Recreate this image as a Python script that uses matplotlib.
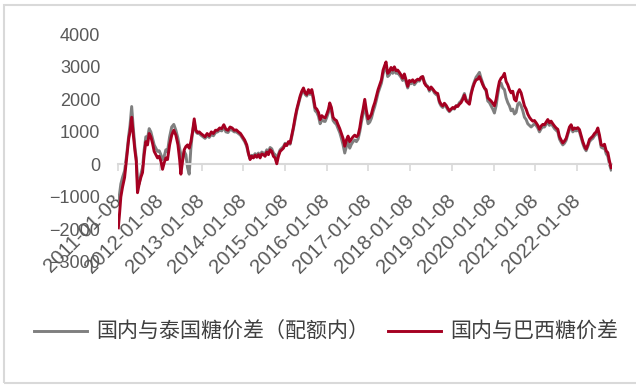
import matplotlib
matplotlib.use("Agg")
import matplotlib.pyplot as plt
from matplotlib.patches import Rectangle
from matplotlib.transforms import ScaledTranslation
import pandas as pd

# Weekly-ish sampling, decimal years
years = [
    2011.02, 2011.05, 2011.08, 2011.12, 2011.17, 2011.22, 2011.27, 2011.30, 2011.34, 2011.38,
    2011.42, 2011.45, 2011.48, 2011.52, 2011.56, 2011.60, 2011.64, 2011.68, 2011.72, 2011.76,
    2011.80, 2011.84, 2011.88, 2011.92, 2011.96, 2012.00, 2012.04, 2012.08, 2012.12, 2012.16,
    2012.20, 2012.25, 2012.30, 2012.35, 2012.40, 2012.45, 2012.49, 2012.52, 2012.56, 2012.60,
    2012.64, 2012.68, 2012.72, 2012.76, 2012.80, 2012.84, 2012.88, 2012.92, 2012.96, 2013.00,
    2013.05, 2013.10, 2013.15, 2013.20, 2013.25, 2013.30, 2013.35, 2013.40, 2013.45, 2013.50,
    2013.55, 2013.60, 2013.65, 2013.70, 2013.75, 2013.80, 2013.85, 2013.90, 2013.95, 2014.00,
    2014.05, 2014.10, 2014.14, 2014.18, 2014.22, 2014.26, 2014.30, 2014.34, 2014.38, 2014.42,
    2014.46, 2014.50, 2014.54, 2014.58, 2014.62, 2014.66, 2014.70, 2014.74, 2014.78, 2014.82,
    2014.86, 2014.90, 2014.94, 2014.98, 2015.02, 2015.06, 2015.10, 2015.14, 2015.18, 2015.22,
    2015.26, 2015.30, 2015.34, 2015.38, 2015.42, 2015.46, 2015.50, 2015.54, 2015.58, 2015.62,
    2015.66, 2015.70, 2015.74, 2015.78, 2015.82, 2015.86, 2015.90, 2015.94, 2015.98, 2016.02,
    2016.06, 2016.09, 2016.13, 2016.17, 2016.21, 2016.25, 2016.29, 2016.33, 2016.37, 2016.41,
    2016.45, 2016.49, 2016.53, 2016.57, 2016.61, 2016.65, 2016.69, 2016.73, 2016.77, 2016.81,
    2016.85, 2016.89, 2016.93, 2016.97, 2017.01, 2017.05, 2017.09, 2017.13, 2017.17, 2017.21,
    2017.25, 2017.29, 2017.33, 2017.37, 2017.41, 2017.44, 2017.48, 2017.52, 2017.56, 2017.60,
    2017.64, 2017.68, 2017.72, 2017.76, 2017.80, 2017.84, 2017.88, 2017.92, 2017.96, 2018.00,
    2018.04, 2018.08, 2018.12, 2018.16, 2018.20, 2018.24, 2018.28, 2018.32, 2018.36, 2018.40,
    2018.44, 2018.48, 2018.52, 2018.56, 2018.60, 2018.64, 2018.68, 2018.72, 2018.76, 2018.80,
    2018.84, 2018.88, 2018.92, 2018.96, 2019.00, 2019.04, 2019.08, 2019.12, 2019.16, 2019.20,
    2019.24, 2019.28, 2019.32, 2019.36, 2019.40, 2019.44, 2019.48, 2019.52, 2019.56, 2019.60,
    2019.64, 2019.68, 2019.72, 2019.76, 2019.80, 2019.84, 2019.88, 2019.92, 2019.96, 2020.00,
    2020.04, 2020.08, 2020.12, 2020.16, 2020.20, 2020.24, 2020.28, 2020.32, 2020.36, 2020.40,
    2020.44, 2020.48, 2020.52, 2020.56, 2020.60, 2020.64, 2020.68, 2020.72, 2020.76, 2020.80,
    2020.84, 2020.88, 2020.92, 2020.96, 2021.00, 2021.04, 2021.08, 2021.12, 2021.16, 2021.20,
    2021.24, 2021.28, 2021.32, 2021.36, 2021.40, 2021.44, 2021.48, 2021.52, 2021.56, 2021.60,
    2021.64, 2021.68, 2021.72, 2021.76, 2021.80, 2021.84, 2021.88, 2021.92, 2021.96, 2022.00,
    2022.04, 2022.08, 2022.12, 2022.16, 2022.20, 2022.24, 2022.28, 2022.32, 2022.36, 2022.40,
    2022.44, 2022.48, 2022.52, 2022.56, 2022.60, 2022.64, 2022.68, 2022.72, 2022.76, 2022.80,
    2022.84,
]

# Domestic vs Thai sugar price spread (within quota), yuan/t
thai_spread = [
    -1100, -900, -600, -400, -200, 300, 900, 1200, 1780, 1100,
    500, 200, -500, -600, -300, -100, 450, 850, 800, 1100,
    1000, 800, 600, 500, 400, 420, 300, 150, 250, 450,
    400, 850, 1150, 1230, 1050, 800, 500, 300, 150, 400,
    300, -100, -300, 500, 1000, 1300, 1000, 950, 950, 900,
    850, 800, 880, 830, 920, 880, 980, 1000, 1050, 1030,
    1150, 1000, 980, 1080, 1050, 1000, 1000, 950, 900, 800,
    700, 550, 320, 180, 280, 250, 330, 280, 350, 260,
    380, 350, 320, 450, 380, 520, 480, 350, 300, 150,
    320, 450, 500, 550, 650, 600, 680, 620, 850, 1100,
    1380, 1650, 1850, 2050, 2200, 2300, 2150, 2100, 2250, 2150,
    2250, 1950, 1650, 1600, 1480, 1250, 1380, 1330, 1320, 1450,
    1600, 1800, 1650, 1350, 1280, 1230, 1100, 980, 800, 600,
    350, 550, 700, 500, 620, 700, 750, 700, 780, 1000,
    1300, 1550, 1850, 1500, 1250, 1300, 1420, 1620, 1780, 1980,
    2200, 2350, 2500, 2780, 2950, 3050, 2700, 2750, 2880, 2800,
    2900, 2800, 2820, 2750, 2680, 2580, 2700, 2520, 2350, 2500,
    2480, 2530, 2450, 2520, 2580, 2560, 2650, 2700, 2550, 2450,
    2400, 2250, 2350, 2300, 2200, 2150, 2120, 1900, 1800, 1750,
    1830, 1780, 1680, 1620, 1680, 1730, 1700, 1800, 1800, 1900,
    1950, 2050, 2180, 2000, 1950, 1900, 2200, 2400, 2550, 2680,
    2750, 2830, 2650, 2500, 2350, 2250, 1950, 1900, 1800, 1700,
    1580, 1800, 2150, 2450, 2500, 2350, 2300, 2050, 1900, 1800,
    1650, 1700, 1550, 1600, 1850, 1900, 1800, 1650, 1450, 1380,
    1250, 1200, 1150, 1200, 1250, 1200, 1120, 1000, 1100, 1150,
    1150, 1230, 1300, 1200, 1250, 1180, 1100, 1050, 1000, 780,
    680, 600, 650, 740, 920, 1080, 1150, 1000, 1050, 1030,
    1060, 1000, 820, 640, 500, 420, 550, 700, 760, 800,
    880, 930, 1020, 820, 530, 500, 520, 330, 250, 0,
    -170,
]

# Domestic vs Brazilian sugar price spread, yuan/t
brazil_spread = [
    -1950, -1500, -1000, -700, -400, 200, 800, 1000, 1450, 900,
    400, 100, -870, -600, -400, -250, 300, 700, 600, 950,
    850, 650, 400, 300, 200, 250, 100, -150, 50, 200,
    150, 600, 900, 1050, 900, 600, 150, -300, 100, 450,
    550, 600, 500, 700, 1000, 1400, 1050, 980, 1000, 950,
    900, 850, 950, 880, 1000, 950, 1050, 1050, 1120, 1100,
    1220, 1080, 1050, 1150, 1120, 1050, 1060, 1000, 950, 850,
    750, 600, 350, 150, 250, 200, 280, 220, 300, 200,
    320, 300, 250, 380, 300, 450, 400, 250, 200, 20,
    250, 400, 450, 500, 620, 580, 700, 650, 900, 1150,
    1450, 1700, 1900, 2100, 2250, 2350, 2200, 2150, 2300, 2200,
    2300, 2050, 1750, 1700, 1600, 1380, 1500, 1450, 1430, 1550,
    1700, 1890, 1750, 1450, 1380, 1350, 1220, 1100, 950, 800,
    560, 750, 870, 700, 780, 850, 900, 850, 900, 1120,
    1450, 1700, 2000, 1650, 1400, 1450, 1550, 1750, 1900, 2100,
    2300, 2450, 2600, 2900, 3050, 3150, 2800, 2850, 2980, 2900,
    3000, 2880, 2900, 2830, 2750, 2650, 2780, 2600, 2400, 2580,
    2550, 2600, 2520, 2580, 2620, 2600, 2680, 2700, 2500, 2420,
    2380, 2300, 2380, 2320, 2250, 2200, 2180, 1950, 1850, 1800,
    1880, 1820, 1730, 1650, 1700, 1750, 1720, 1800, 1780, 1850,
    1900, 2000, 2130, 1950, 1900, 1850, 2150, 2350, 2500, 2600,
    2620, 2700, 2580, 2450, 2350, 2300, 2050, 2000, 1950, 1880,
    1800, 2000, 2300, 2550, 2650, 2700, 2800, 2550, 2450, 2300,
    2200, 2250, 2000, 1950, 2200, 2300, 2200, 2000, 1800, 1700,
    1550, 1450, 1380, 1330, 1350, 1280, 1200, 1080, 1180, 1230,
    1220, 1300, 1380, 1280, 1330, 1250, 1180, 1120, 1080, 850,
    750, 660, 720, 800, 980, 1150, 1220, 1070, 1120, 1100,
    1130, 1070, 880, 700, 560, 470, 600, 770, 820, 870,
    950, 1000, 1120, 900, 600, 580, 620, 420, 360, 100,
    -100,
]

tick_dates = ["2011-01-08", "2012-01-08", "2013-01-08", "2014-01-08", "2015-01-08", "2016-01-08",
              "2017-01-08", "2018-01-08", "2019-01-08", "2020-01-08", "2021-01-08", "2022-01-08"]
y_ticks = [-3000, -2000, -1000, 0, 1000, 2000, 3000, 4000]
series_names = ["国内与泰国糖价差（配额内）", "国内与巴西糖价差"]


def decimal_year(s):
    d = pd.Timestamp(s)
    return d.year + (d.dayofyear - 1) / 365.0


plt.rcParams["font.family"] = ["Liberation Sans", "DejaVu Sans"]

fig = plt.figure(figsize=(6.36, 3.85), dpi=100)
W, H = 636, 385

# light frame around the whole figure
fig.patches.append(Rectangle((4 / W, 2 / H), 0.999, 1 - 7 / H, transform=fig.transFigure,
                             fill=False, edgecolor="#d9d9d9", linewidth=1.5))

ax = fig.add_axes([118.3 / W, 1 - 262 / H, (612 - 118.3) / W, (262 - 34.3) / H])

ax.plot(years, thai_spread, color="#7f7f7f", linewidth=2.1, label=series_names[0], zorder=2)
ax.plot(years, brazil_spread, color="#a50021", linewidth=2.1, label=series_names[1], zorder=3)

ax.set_xlim(decimal_year("2011-01-08"), years[-1] + 0.02)
ax.set_ylim(-3000, 4000)
ax.set_yticks(y_ticks)
ax.set_yticklabels([f"{v}".replace("-", "\u2212") for v in y_ticks])

ax.set_xticks([decimal_year(s) for s in tick_dates])
ax.set_xticklabels(tick_dates)

for side in ("left", "right", "top"):
    ax.spines[side].set_visible(False)
ax.spines["bottom"].set_position(("data", 0))
ax.spines["bottom"].set_color("#d9d9d9")
ax.spines["bottom"].set_linewidth(1.5)

ax.tick_params(axis="y", length=0, pad=13, labelsize=13, labelcolor="#595959")
ax.tick_params(axis="x", direction="out", length=5, width=1.2, color="#d9d9d9",
               pad=14, labelsize=14.5, labelcolor="#595959")
ax.patch.set_alpha(0)

shift = ScaledTranslation(7 / 100, 0, fig.dpi_scale_trans)
for lbl in ax.get_xticklabels():
    lbl.set_rotation(45)
    lbl.set_horizontalalignment("right")
    lbl.set_verticalalignment("top")
    lbl.set_transform(lbl.get_transform() + shift)

leg = fig.legend(loc="center", bbox_to_anchor=(0.513, 1 - 332 / H), ncol=2, frameon=False,
                 prop={"family": ["Noto Sans CJK SC", "DejaVu Sans"], "size": 15.1},
                 handlelength=2.5, handletextpad=0.45, columnspacing=0.9)
for t in leg.get_texts():
    t.set_color("#404040")

fig.savefig("out.png", dpi=100)
